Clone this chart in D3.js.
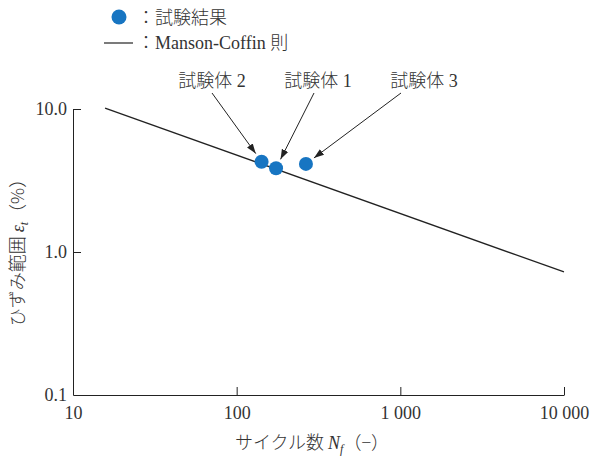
<!DOCTYPE html>
<html>
<head>
<meta charset="utf-8">
<script src="https://cdn.jsdelivr.net/npm/d3@7"></script>
<style>
  html, body { margin: 0; padding: 0; background: #fff; }
  svg text { font-family: "Liberation Serif", "Times New Roman", serif; fill: #333; }
  svg .jp { font-family: "Noto Sans CJK JP", sans-serif; font-weight: 300; }
</style>
</head>
<body>
<svg id="chart" width="592" height="459"></svg>
<script>
// Test results: cycles to failure and total strain range (%)
const specimens = ["試験体 2", "試験体 1", "試験体 3"];
const cycles = [142, 174, 265];
const strainRange = [4.28, 3.85, 4.13];

// Manson-Coffin fit, end points [N, strain %]
const fitCycles = [15.7, 10000];
const fitStrain = [10.15, 0.725];

const xTicks = [10, 100, 1000, 10000];
const yTicks = [0.1, 1, 10];

// Label placement for each specimen callout (pixels)
const calloutLayout = [
  { tx: 212, ty: 87, ax: 212, ay: 93 },
  { tx: 318, ty: 87, ax: 314, ay: 93 },
  { tx: 424, ty: 87, ax: 401, ay: 93 }
];

const svg = d3.select("#chart");
const ink = "#222";
const blue = "#1775c2";
const serif = '"Liberation Serif", "Times New Roman", serif';
const fs = 18;

const x = d3.scaleLog().domain([10, 10000]).range([73, 564]);
const y = d3.scaleLog().domain([0.1, 10]).range([395, 109]);

const spaced = d3.formatLocale({ decimal: ".", thousands: " ", grouping: [3], currency: ["", ""] }).format(",d");

// x axis, ticks pointing inward
const gx = svg.append("g").attr("transform", `translate(0,${y(0.1)})`)
  .call(d3.axisBottom(x).tickValues(xTicks).tickFormat(spaced).tickSizeInner(-8).tickSizeOuter(0));
gx.attr("font-family", null).attr("font-size", null);
gx.select(".domain").attr("stroke", ink);
gx.selectAll(".tick line").attr("stroke", ink);
gx.selectAll(".tick text").attr("y", 24).attr("dy", null).attr("fill", "#333");
gx.selectAll(".tick").filter(d => d === 10).select("line").remove();

// y axis, ticks pointing inward
const gy = svg.append("g").attr("transform", `translate(${x(10)},0)`)
  .call(d3.axisLeft(y).tickValues(yTicks).tickFormat(d3.format(".1f")).tickSizeInner(-8).tickSizeOuter(0));
gy.attr("font-family", null).attr("font-size", null);
gy.select(".domain").attr("stroke", ink);
gy.selectAll(".tick line").attr("stroke", ink);
gy.selectAll(".tick text").attr("x", -6).attr("dy", "0.3em").attr("fill", "#333");
gy.selectAll(".tick").filter(d => d === 0.1).select("line").remove();
svg.selectAll(".tick text").style("font-family", serif).style("font-size", fs + "px");

// Manson-Coffin line
const fit = fitCycles.map((n, i) => [n, fitStrain[i]]);
svg.append("path")
  .attr("d", d3.line().x(d => x(d[0])).y(d => y(d[1]))(fit))
  .attr("fill", "none").attr("stroke", ink).attr("stroke-width", 1.3);

// arrowhead marker
svg.append("defs").append("marker")
  .attr("id", "arrow").attr("viewBox", "0 0 10 10")
  .attr("refX", 10).attr("refY", 5)
  .attr("markerWidth", 10).attr("markerHeight", 10)
  .attr("markerUnits", "userSpaceOnUse")
  .attr("orient", "auto")
  .append("path").attr("d", "M0,1.5 L10,5 L0,8.5 Z").attr("fill", ink);

const r = 7;
const pts = specimens.map((s, i) => ({ name: s, n: cycles[i], e: strainRange[i], lay: calloutLayout[i] }));

// callout arrows and labels
pts.forEach(p => {
  const cx = x(p.n), cy = y(p.e);
  const dx = cx - p.lay.ax, dy = cy - p.lay.ay;
  const len = Math.hypot(dx, dy);
  const tipX = cx - dx / len * (r + 3), tipY = cy - dy / len * (r + 3);
  svg.append("line")
    .attr("x1", p.lay.ax).attr("y1", p.lay.ay).attr("x2", tipX).attr("y2", tipY)
    .attr("stroke", ink).attr("stroke-width", 1).attr("marker-end", "url(#arrow)");
  const t = svg.append("text").attr("x", p.lay.tx).attr("y", p.lay.ty)
    .attr("text-anchor", "middle").attr("font-size", fs);
  const parts = p.name.split(" ");
  t.append("tspan").attr("class", "jp").text(parts[0]);
  t.append("tspan").text(" " + parts[1]);
});

// data points
svg.selectAll("circle.pt").data(pts).join("circle")
  .attr("class", "pt")
  .attr("cx", d => x(d.n)).attr("cy", d => y(d.e)).attr("r", r)
  .attr("fill", blue);

// legend
svg.append("circle").attr("cx", 119).attr("cy", 17).attr("r", 7.5).attr("fill", blue);
svg.append("text").attr("x", 137).attr("y", 24).attr("font-size", fs)
  .append("tspan").attr("class", "jp").text("：試験結果");
svg.append("line").attr("x1", 104).attr("x2", 133).attr("y1", 43).attr("y2", 43)
  .attr("stroke", ink).attr("stroke-width", 1.2);
const lg2 = svg.append("text").attr("x", 137).attr("y", 49).attr("font-size", fs);
lg2.append("tspan").attr("class", "jp").text("：");
lg2.append("tspan").text("Manson-Coffin ");
lg2.append("tspan").attr("class", "jp").text("則");

// x axis title
const xt = svg.append("text").attr("x", 312).attr("y", 449).attr("text-anchor", "middle").attr("font-size", fs);
xt.append("tspan").attr("class", "jp").text("サイクル数 ");
xt.append("tspan").attr("font-style", "italic").text("N");
xt.append("tspan").attr("font-style", "italic").attr("font-size", 12).attr("dy", 4).text("f");
xt.append("tspan").attr("class", "jp").attr("dy", -4).text("（−）");

// y axis title
const yt = svg.append("text").attr("transform", "translate(24,248) rotate(-90)")
  .attr("text-anchor", "middle").attr("font-size", fs);
yt.append("tspan").attr("class", "jp").text("ひずみ範囲 ");
yt.append("tspan").attr("font-style", "italic").text("ε");
yt.append("tspan").attr("font-style", "italic").attr("font-size", 12).attr("dy", 4).text("t");
yt.append("tspan").attr("class", "jp").attr("dy", -4).text("（%）");
</script>
</body>
</html>
